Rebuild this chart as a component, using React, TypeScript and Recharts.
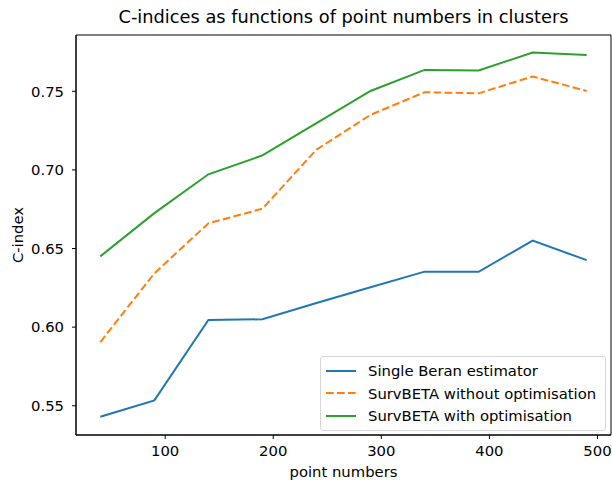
import {
  LineChart,
  Line,
  XAxis,
  YAxis,
  Legend,
  ReferenceArea
} from "recharts";

// valeurs
const pointNumbers = [40, 90, 140, 190, 240, 290, 340, 390, 440, 490];
const singleBeran = [0.543, 0.5534, 0.6046, 0.605, 0.6154, 0.6254, 0.6353, 0.6352, 0.655, 0.6426];
const survBetaNoOpt = [0.5905, 0.6342, 0.666, 0.6753, 0.7129, 0.735, 0.7494, 0.7487, 0.7594, 0.7502];
const survBetaOpt = [0.645, 0.6725, 0.6972, 0.7092, 0.7298, 0.7502, 0.7636, 0.7632, 0.7747, 0.7731];
const xTicks = [100, 200, 300, 400, 500];
const yTicks = [0.55, 0.6, 0.65, 0.7, 0.75];

const seriesNames = [
  "Single Beran estimator",
  "SurvBETA without optimisation",
  "SurvBETA with optimisation"
];
const colors = ["#1f77b4", "#ff7f0e", "#2ca02c"];

const data = pointNumbers.map((n, i) => ({
  n,
  beran: singleBeran[i],
  noOpt: survBetaNoOpt[i],
  opt: survBetaOpt[i]
}));

const xDomain: [number, number] = [17.5, 512.5];
const yDomain: [number, number] = [0.5314, 0.7858];

const font = "DejaVu Sans, sans-serif";
const fs = 14.8;

const renderLegend = () => (
  <div
    style={{
      border: "1px solid #d6d6d6",
      borderRadius: 3,
      background: "rgba(255,255,255,0.8)",
      padding: "2.5px 0 2.5px 4px",
      fontFamily: font,
      fontSize: fs,
      color: "#000",
      textAlign: "left",
      whiteSpace: "nowrap"
    }}
  >
    {seriesNames.map((name, i) => (
      <div key={name} style={{ display: "flex", alignItems: "center", height: 22.5 }}>
        <svg width={31} height={10} style={{ marginRight: 12 }}>
          <line
            x1={1}
            y1={5}
            x2={31}
            y2={5}
            stroke={colors[i]}
            strokeWidth={2}
            strokeDasharray={i === 1 ? "7.7 3.3" : undefined}
          />
        </svg>
        <span>{name}</span>
      </div>
    ))}
  </div>
);

const App = () => {
  return (
    <div style={{ position: "absolute", left: 0, top: 0, width: 612, height: 480, background: "#fff" }}>
      <div
        style={{
          position: "absolute",
          left: 76,
          width: 535,
          top: 6,
          textAlign: "center",
          fontFamily: font,
          fontSize: 17.8,
          color: "#000",
          whiteSpace: "nowrap"
        }}
      >
        C-indices as functions of point numbers in clusters
      </div>
      <LineChart
        width={612}
        height={480}
        data={data}
        margin={{ top: 35, right: 1, bottom: 0, left: 0 }}
        style={{ fontFamily: font }}
      >
        <XAxis
          dataKey="n"
          type="number"
          domain={xDomain}
          ticks={xTicks}
          allowDataOverflow
          height={45}
          tickSize={4}
          tickMargin={6}
          stroke="#000"
          tick={{ fill: "#000", fontSize: fs }}
          label={{
            value: "point numbers",
            position: "insideBottom",
            offset: 3,
            fill: "#000",
            fontSize: fs
          }}
        />
        <YAxis
          type="number"
          domain={yDomain}
          ticks={yTicks}
          allowDataOverflow
          width={76}
          tickSize={4}
          tickMargin={8}
          stroke="#000"
          tickFormatter={(v: number) => v.toFixed(2)}
          tick={{ fill: "#000", fontSize: fs }}
          label={{
            value: "C-index",
            angle: -90,
            position: "insideLeft",
            offset: 18,
            fill: "#000",
            fontSize: fs,
            style: { textAnchor: "middle" }
          }}
        />
        <ReferenceArea
          x1={xDomain[0]}
          x2={xDomain[1]}
          y1={yDomain[0]}
          y2={yDomain[1]}
          fill="none"
          stroke="#000"
          strokeWidth={1}
          ifOverflow="visible"
        />
        <Line
          dataKey="beran"
          name={seriesNames[0]}
          stroke={colors[0]}
          strokeWidth={2}
          dot={false}
          type="linear"
          isAnimationActive={false}
        />
        <Line
          dataKey="noOpt"
          name={seriesNames[1]}
          stroke={colors[1]}
          strokeWidth={2}
          strokeDasharray="7.7 3.3"
          dot={false}
          type="linear"
          isAnimationActive={false}
        />
        <Line
          dataKey="opt"
          name={seriesNames[2]}
          stroke={colors[2]}
          strokeWidth={2}
          dot={false}
          type="linear"
          isAnimationActive={false}
        />
        <Legend
          layout="horizontal"
          verticalAlign="middle"
          align="center"
          content={renderLegend}
          wrapperStyle={{ position: "absolute", left: 320, top: 356, width: 286, bottom: "auto" }}
        />
      </LineChart>
    </div>
  );
};

export default App;
